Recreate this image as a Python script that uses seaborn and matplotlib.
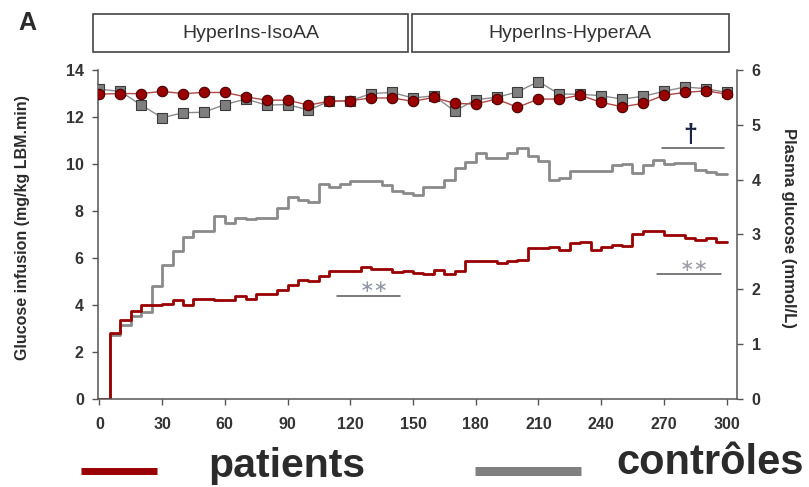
import numpy as np
import pandas as pd
import matplotlib
matplotlib.use("Agg")
import matplotlib.pyplot as plt
import seaborn as sns
from matplotlib.patches import Rectangle
from matplotlib.lines import Line2D

# ---------------- data ----------------
# glucose infusion rate, one value per 5-min interval starting at 0,5,...,295
patients_infusion = [0.00, 2.82, 3.38, 3.74, 4.01, 4.01, 4.05, 4.23, 4.00, 4.25,
                     4.25, 4.20, 4.20, 4.39, 4.24, 4.48, 4.48, 4.65, 4.86, 5.08,
                     5.03, 5.23, 5.45, 5.45, 5.45, 5.60, 5.54, 5.54, 5.41, 5.44,
                     5.38, 5.30, 5.50, 5.30, 5.46, 5.87, 5.87, 5.87, 5.77, 5.87,
                     5.93, 6.43, 6.43, 6.48, 6.33, 6.64, 6.70, 6.32, 6.46, 6.56,
                     6.49, 7.03, 7.14, 7.14, 6.99, 6.99, 6.84, 6.77, 6.84, 6.67]
controls_infusion = [0.00, 2.74, 3.13, 3.55, 3.69, 4.79, 5.71, 6.28, 6.89, 7.14,
                     7.14, 7.80, 7.50, 7.70, 7.65, 7.71, 7.71, 8.12, 8.59, 8.45,
                     8.38, 9.13, 9.04, 9.13, 9.27, 9.27, 9.27, 9.11, 8.84, 8.77,
                     8.69, 9.01, 9.01, 9.30, 9.81, 10.10, 10.48, 10.25, 10.25, 10.48,
                     10.70, 10.32, 10.12, 9.34, 9.40, 9.71, 9.71, 9.71, 9.71, 9.97,
                     10.01, 9.61, 9.97, 10.18, 9.98, 10.03, 10.03, 9.75, 9.68, 9.58]
step_start = list(range(0, 300, 5))
step_end = 300

# plasma glucose (mmol/L), every 10 min from 0 to 300
glucose_time = list(range(0, 301, 10))
patients_glucose = [5.56, 5.57, 5.57, 5.61, 5.57, 5.59, 5.59, 5.51, 5.45, 5.45,
                    5.36, 5.43, 5.44, 5.49, 5.49, 5.43, 5.50, 5.39, 5.38, 5.47,
                    5.32, 5.47, 5.47, 5.54, 5.41, 5.33, 5.39, 5.54, 5.59, 5.62, 5.56]
controls_glucose = [5.65, 5.61, 5.36, 5.13, 5.22, 5.23, 5.37, 5.47, 5.36, 5.37,
                    5.27, 5.43, 5.44, 5.57, 5.59, 5.49, 5.53, 5.25, 5.46, 5.50,
                    5.60, 5.79, 5.56, 5.56, 5.53, 5.47, 5.52, 5.61, 5.69, 5.66, 5.59]

x_ticks = [0, 30, 60, 90, 120, 150, 180, 210, 240, 270, 300]
left_ticks = [0, 2, 4, 6, 8, 10, 12, 14]
right_ticks = [0, 1, 2, 3, 4, 5, 6]
phase_labels = ["HyperIns-IsoAA", "HyperIns-HyperAA"]
legend_labels = ["patients", "contrôles"]

RED = "#990000"
GRAY = "#8a8a8a"
TXT = "#2b2b2b"
SPINE = "#555555"

# ---------------- figure ----------------
sns.set_style("ticks")
plt.rcParams["font.family"] = ["Liberation Sans", "DejaVu Sans"]

W, H = 809, 487
fig = plt.figure(figsize=(W / 100, H / 100), dpi=100)

def fx(px):
    return px / W

def fy(py):
    return 1 - py / H

ax = fig.add_axes([fx(97.7), fy(399), fx(737) - fx(97.7), fy(70) - fy(399)])

t_steps = step_start + [step_end]
df_inf = pd.DataFrame({
    "t": t_steps + t_steps,
    "v": controls_infusion + [controls_infusion[-1]] + patients_infusion + [patients_infusion[-1]],
    "group": ["contrôles"] * len(t_steps) + ["patients"] * len(t_steps),
})
sns.lineplot(data=df_inf, x="t", y="v", hue="group",
             hue_order=["contrôles", "patients"],
             palette={"contrôles": GRAY, "patients": RED},
             drawstyle="steps-post", estimator=None, legend=False,
             linewidth=2.0, ax=ax)

ax.set_xlim(-0.8, 305)
ax.set_ylim(0, 14)
ax.set_xticks(x_ticks)
ax.set_yticks(left_ticks)
ax.set_xlabel("")
ax.set_ylabel("")

ax2 = ax.twinx()
sns.lineplot(x=glucose_time, y=controls_glucose, color="#8c8c8c", linewidth=1.0,
             marker="s", markersize=6.5, markerfacecolor="#7f7f7f",
             markeredgecolor="#3a3a3a", markeredgewidth=0.8, ax=ax2)
sns.lineplot(x=glucose_time, y=patients_glucose, color="#b04848", linewidth=1.0,
             marker="o", markersize=7.5, markerfacecolor=RED,
             markeredgecolor="#4a0000", markeredgewidth=0.8, ax=ax2)
ax2.set_ylim(0, 6)
ax2.set_yticks(right_ticks)
ax2.set_xlim(-0.8, 305)

for a in (ax, ax2):
    a.spines["top"].set_visible(False)
    for s in a.spines.values():
        s.set_color(SPINE)
        s.set_linewidth(1.1)
ax.spines["right"].set_visible(False)
ax2.spines["left"].set_visible(False)
ax2.spines["bottom"].set_visible(False)

ax.tick_params(axis="x", direction="out", length=4.5, width=1, color=SPINE,
               labelsize=11.5, labelcolor="#333333", pad=8.5)
ax.tick_params(axis="y", direction="out", length=4, width=1, color=SPINE,
               labelsize=11.5, labelcolor="#333333", pad=6)
ax2.tick_params(axis="y", direction="out", length=4.5, width=1, color=SPINE,
                labelsize=11.5, labelcolor="#333333", pad=6)
for lbl in ax.get_xticklabels() + ax.get_yticklabels() + ax2.get_yticklabels():
    lbl.set_fontweight("bold")

# significance annotations (left-axis data coords)
ax.plot([113.6, 143.8], [4.40, 4.40], color="#555555", lw=1.1)
ax.text(131.5, 4.76, "\u2217\u2217", ha="center", va="center", fontsize=12.5,
        family="DejaVu Sans", color="#9097a4")
ax.plot([269.2, 298.8], [10.67, 10.67], color="#555555", lw=1.1)
ax.text(282.5, 11.25, "†", ha="center", va="center", fontsize=18,
        fontweight="bold", color="#1c2444")
ax.plot([266.7, 297.3], [5.33, 5.33], color="#555555", lw=1.1)
ax.text(284.5, 5.68, "\u2217\u2217", ha="center", va="center", fontsize=12.5,
        family="DejaVu Sans", color="#9c9ca6")

# header boxes
boxes = [(92.7, 408.3), (411.7, 729.0)]
for (x0, x1), lab in zip(boxes, phase_labels):
    fig.add_artist(Rectangle((fx(x0), fy(52.3)), fx(x1) - fx(x0), fy(14) - fy(52.3),
                             transform=fig.transFigure, fill=False,
                             edgecolor="#444444", linewidth=1.2))
    fig.text(fx((x0 + x1) / 2), fy(33.5), lab, ha="center", va="center",
             fontsize=14, color="#333333")

# panel label and axis titles
fig.text(fx(18), fy(30), "A", fontsize=18, fontweight="bold", color=TXT,
         ha="left", va="baseline")
fig.text(fx(23), fy(228), "Glucose infusion (mg/kg LBM.min)", rotation=90,
         ha="center", va="center", fontsize=11.5, fontweight="bold", color=TXT)
fig.text(fx(788.5), fy(228), "Plasma glucose (mmol/L)", rotation=270,
         ha="center", va="center", fontsize=12, fontweight="bold", color=TXT)

# legend
fig.add_artist(Line2D([fx(81), fx(157)], [fy(470.5), fy(470.5)],
                      transform=fig.transFigure, color=RED, linewidth=5.0,
                      solid_capstyle="butt"))
fig.add_artist(Line2D([fx(475), fx(581)], [fy(470.5), fy(470.5)],
                      transform=fig.transFigure, color="#808080", linewidth=6.5,
                      solid_capstyle="butt"))
fig.text(fx(208), fy(477), legend_labels[0], fontsize=29.5, fontweight="bold",
         color=TXT, ha="left", va="baseline")
fig.text(fx(616), fy(474), legend_labels[1], fontsize=30, fontweight="bold",
         color=TXT, ha="left", va="baseline")

fig.savefig("out.png", dpi=100)
